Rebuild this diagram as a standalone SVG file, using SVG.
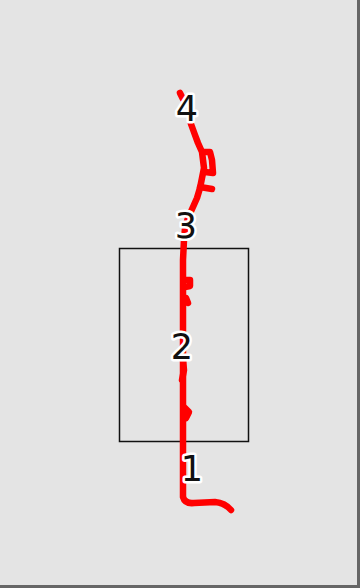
<svg xmlns="http://www.w3.org/2000/svg" width="360" height="588" viewBox="0 0 360 588">
<style>
.lbl{font-family:"DejaVu Sans",sans-serif;font-size:35px;fill:#111;stroke:#fff;stroke-width:5px;paint-order:stroke;stroke-linejoin:round;text-anchor:middle}
.trace{fill:none;stroke:#f00;stroke-width:6.5;stroke-linecap:round;stroke-linejoin:round}
</style>
<rect x="0" y="0" width="360" height="588" fill="#e4e4e4"/>
<rect x="357" y="0" width="3" height="588" fill="#666"/>
<rect x="0" y="585" width="360" height="3" fill="#666"/>
<g id="region">
<rect x="119.5" y="248.5" width="129" height="193" fill="none" stroke="#111" stroke-width="1.5"/>
</g>
<g id="connectors">
<path class="trace" d="M180,93 L183,99"/>
<path class="trace" d="M191,124 L195,135 L198,143 L202,152 L203,160 L204,168 L202,178 L200,188 L197,198 L193,207 L188,218 L185,228 L184,240 L183,260 L183,300 L183,340 L183,380 L183,420 L183,450 L183,480 L183,497 Q185,504 194,503 L215,502 Q225,503 231,510"/>
<path class="trace" d="M203,152 L210,152 L212,160 L213,173 L205,172"/>
<path class="trace" d="M200,187 L212,189"/>
<path class="trace" d="M185,280 L190,280 L190,286 L185,287"/>
<path class="trace" d="M186,298 L188,303"/>
<path class="trace" d="M182,350 L184,370 L182,380"/>
<path class="trace" d="M185,408 L189,412 L186,418"/>
</g>
<g id="n4"><text class="lbl" x="187" y="121">4</text></g>
<g id="n3"><text class="lbl" x="186" y="238">3</text></g>
<g id="n2"><text class="lbl" x="182" y="359">2</text></g>
<g id="n1"><text class="lbl" x="192" y="481">1</text></g>
</svg>
